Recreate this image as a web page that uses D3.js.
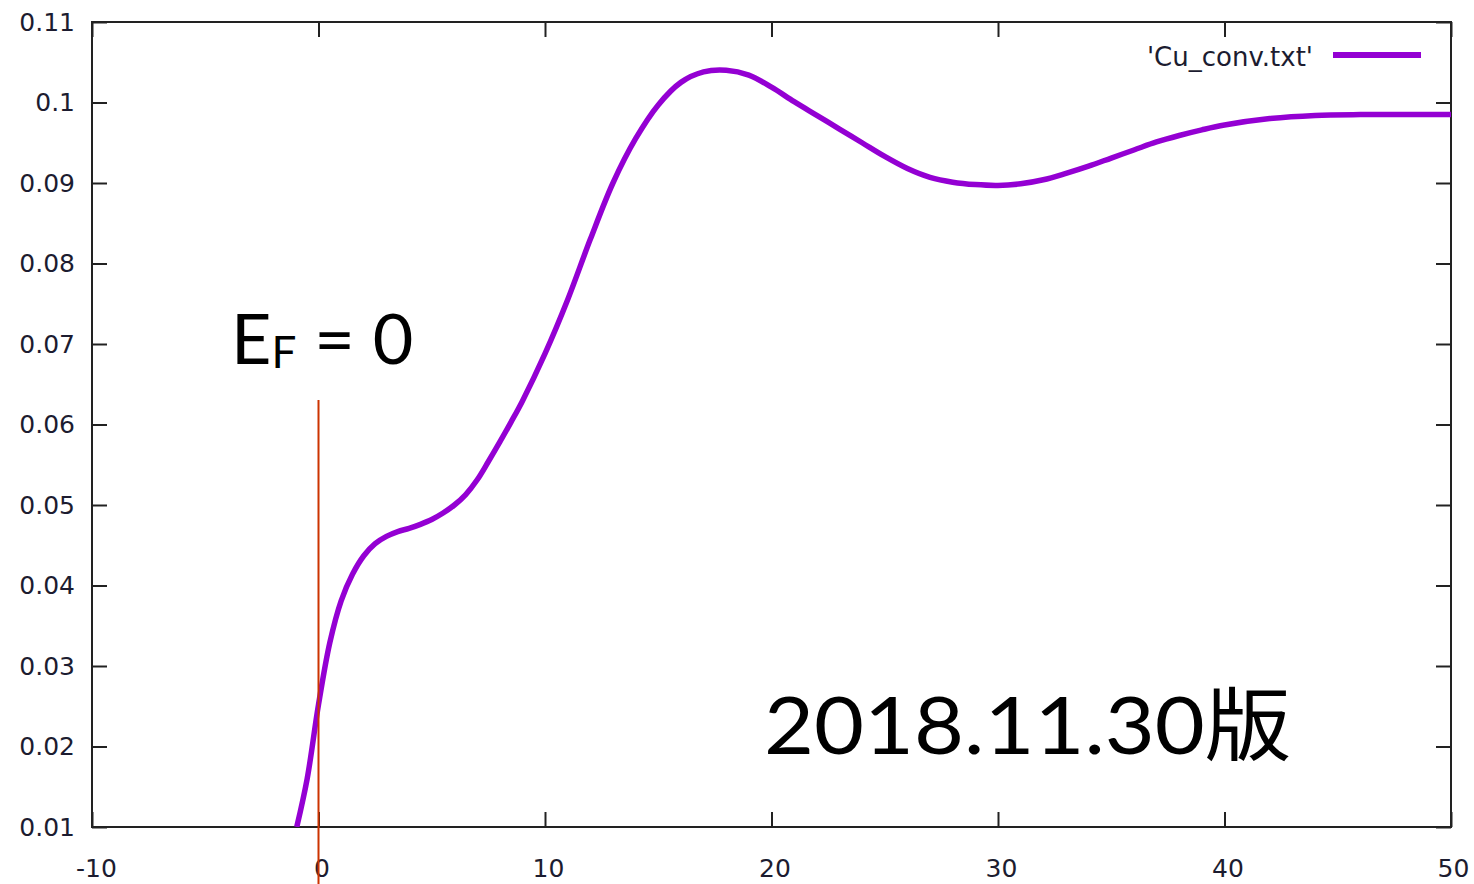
<!DOCTYPE html>
<html><head><meta charset="utf-8">
<script src="https://cdn.jsdelivr.net/npm/d3@7"></script>
<style>html,body{margin:0;padding:0;background:#fff;}svg{display:block;}</style>
</head><body>
<svg id="chart" width="1474" height="884"></svg>
<script>
// ---- data ----
const energy = [-0.96,-0.5,0,0.5,1,1.5,2,2.5,3,3.5,4,4.5,5,5.5,6,6.5,7,7.5,8,8.5,9,10,11,12,13,14,15,16,17,18,19,20,21,22,23,24,25,26,27,28,29,30,31,32,33,34,35,36,37,38,39,40,42,44,46,48,50];
const dos    = [0.0100,0.0160,0.0252,0.0329,0.0381,0.0414,0.0437,0.0452,0.0461,0.0467,0.0471,0.0476,0.0482,0.0490,0.0500,0.0513,0.0531,0.0554,0.0578,0.0603,0.0629,0.0688,0.0755,0.0830,0.0900,0.0955,0.0997,0.1025,0.1038,0.1040,0.1034,0.1019,0.1001,0.0984,0.0967,0.0950,0.0933,0.0918,0.0907,0.0901,0.0898,0.0897,0.0899,0.0904,0.0912,0.0921,0.0931,0.0941,0.0951,0.0959,0.0966,0.0972,0.0980,0.0984,0.0985,0.0985,0.0985];
const xTicks = [-10,0,10,20,30,40,50];
const yTicks = [0.01,0.02,0.03,0.04,0.05,0.06,0.07,0.08,0.09,0.1,0.11];
const xTickLabels = ["-10","0","10","20","30","40","50"];
const yTickLabels = ["0.01","0.02","0.03","0.04","0.05","0.06","0.07","0.08","0.09","0.1","0.11"];
const seriesName = "'Cu_conv.txt'";
const fermiEnergy = 0;
const fermiLabel = {main:"E", sub:"F", rest:" = 0"};
const versionLabel = "2018.11.30版";

// ---- layout ----
const L = 92, R = 1451, T = 22, B = 827;
const svg = d3.select("#chart");
const x = d3.scaleLinear().domain([-10,50]).range([L,R]);
const y = d3.scaleLinear().domain([0.01,0.11]).range([B,T]);
const frameColor = "#222";
const tickFont = "'DejaVu Sans', Verdana, sans-serif";

// clip
svg.append("defs").append("clipPath").attr("id","clip")
  .append("rect").attr("x",L).attr("y",T-4).attr("width",R-L+4).attr("height",B-T+4);

// axes
const gL = svg.append("g").attr("transform",`translate(${L},0)`)
  .call(d3.axisLeft(y).tickValues(yTicks).tickFormat((d,i)=>yTickLabels[i]).tickSize(-15).tickSizeOuter(0).tickPadding(17));
const gR = svg.append("g").attr("transform",`translate(${R},0)`)
  .call(d3.axisRight(y).tickValues(yTicks).tickFormat("").tickSize(-15).tickSizeOuter(0));
const gB = svg.append("g").attr("transform",`translate(0,${B})`)
  .call(d3.axisBottom(x).tickValues(xTicks).tickFormat((d,i)=>xTickLabels[i]).tickSize(-15).tickSizeOuter(0).tickPadding(32));
const gT = svg.append("g").attr("transform",`translate(0,${T})`)
  .call(d3.axisTop(x).tickValues(xTicks).tickFormat("").tickSize(-15).tickSizeOuter(0));
[gL,gR,gB,gT].forEach(g=>{
  g.select(".domain").remove();
  g.selectAll(".tick line").attr("stroke",frameColor).attr("stroke-width",2);
  g.selectAll(".tick text").attr("fill","#1c1c30").style("font-family",tickFont).style("font-size","25px");
});
gB.selectAll(".tick text").attr("dx", (d)=> d===50 ? "2" : (d===-10? "4":"3"));

// frame
svg.append("rect").attr("x",L).attr("y",T).attr("width",R-L).attr("height",B-T)
  .attr("fill","none").attr("stroke",frameColor).attr("stroke-width",2);

// curve
const line = d3.line().x((d,i)=>x(energy[i])).y((d,i)=>y(dos[i])).curve(d3.curveCatmullRom.alpha(0.5));
svg.append("path").datum(dos).attr("clip-path","url(#clip)")
  .attr("d",line).attr("fill","none").attr("stroke","#9400d3").attr("stroke-width",5.5)
  .attr("stroke-linejoin","round");

// legend
svg.append("line").attr("x1",1333).attr("x2",1421).attr("y1",55).attr("y2",55)
  .attr("stroke","#9400d3").attr("stroke-width",6);
svg.append("text").attr("x",1313).attr("y",58).attr("text-anchor","end").attr("dominant-baseline","middle")
  .attr("fill","#1c1c30").style("font-family",tickFont).style("font-size","26px").text(seriesName);

// Fermi level line
svg.append("line").attr("x1",x(fermiEnergy)).attr("x2",x(fermiEnergy)).attr("y1",400).attr("y2",884)
  .attr("stroke","#cc3300").attr("stroke-width",2);
const ef = svg.append("text").attr("x",231).attr("y",364).attr("fill","#000")
  .style("font-family","Lato, 'Open Sans', sans-serif").style("font-size","70px");
ef.append("tspan").text(fermiLabel.main);
ef.append("tspan").attr("dy",4).style("font-size","44px").text(fermiLabel.sub);
ef.append("tspan").attr("dy",-4).text(fermiLabel.rest);

// version label
svg.append("text").attr("x",764).attr("y",754).attr("fill","#000")
  .attr("textLength",527).attr("lengthAdjust","spacingAndGlyphs")
  .style("font-family","Lato, 'Noto Sans CJK JP', sans-serif").style("font-size","80px").text(versionLabel);
</script>
</body></html>
